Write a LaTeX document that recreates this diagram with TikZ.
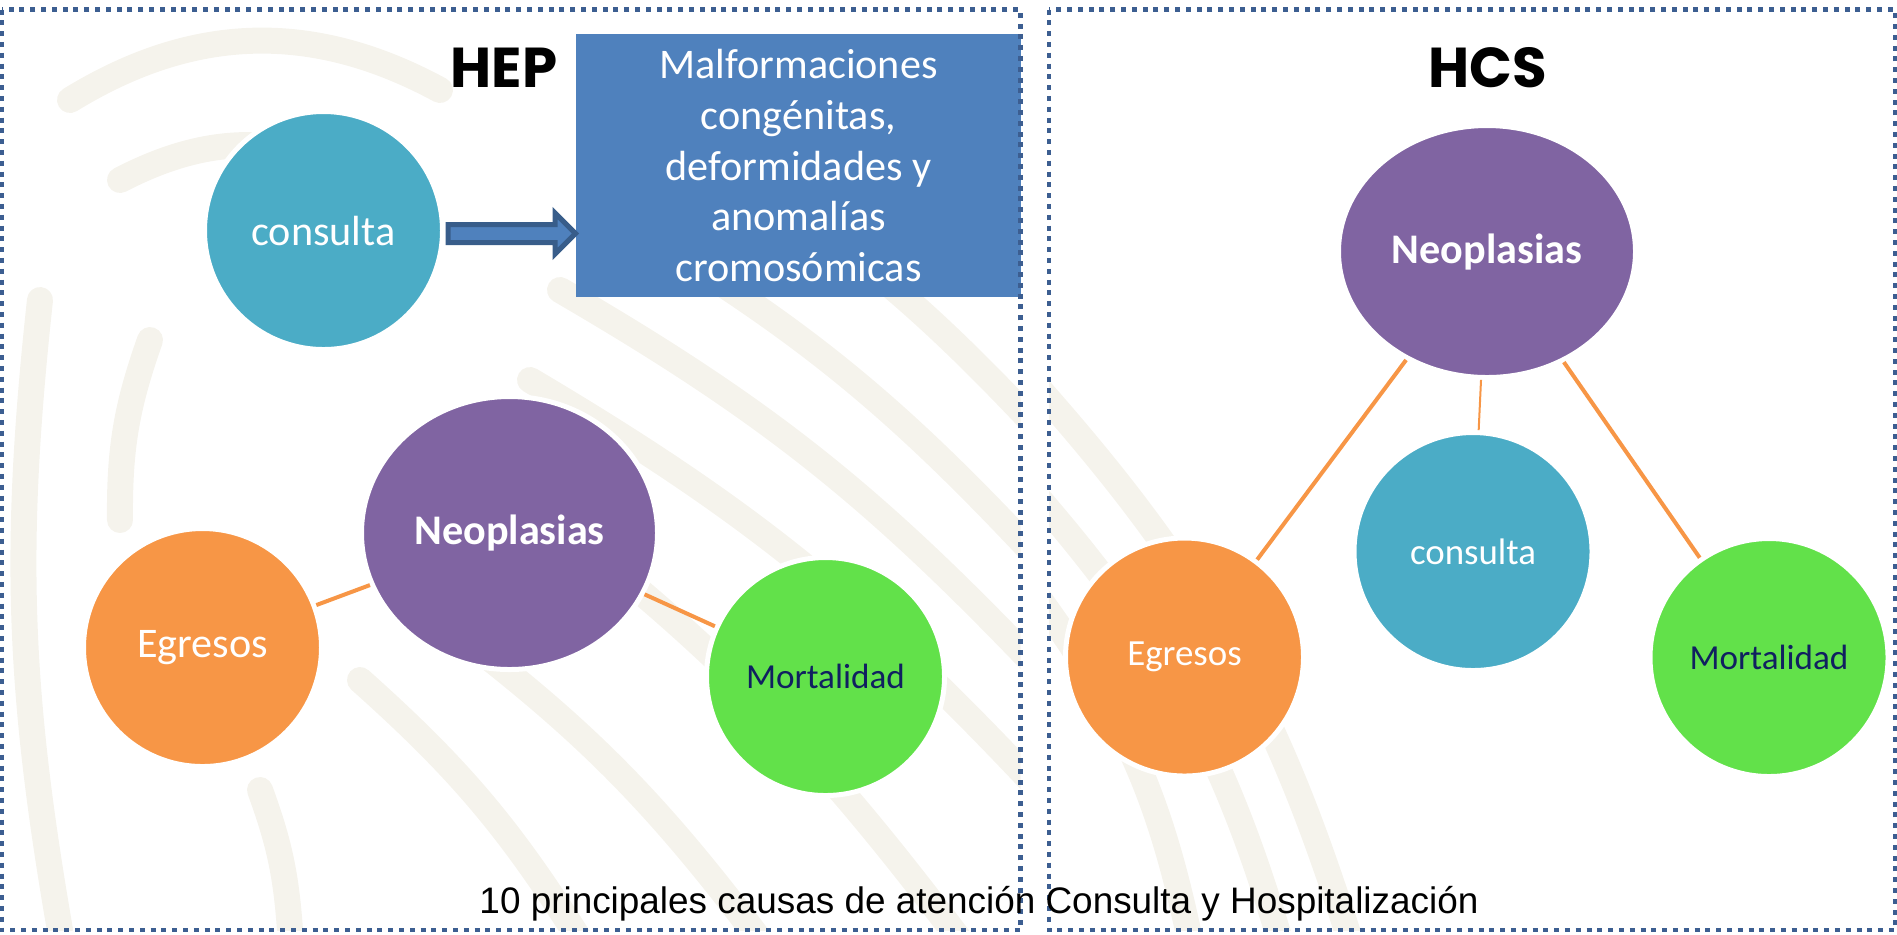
\documentclass[tikz,border=0pt]{standalone}
\usepackage{fontspec}
\setmainfont{Carlito}
\newfontfamily\titlefont{Poppins}
\newfontfamily\piefont{Liberation Sans}
\usetikzlibrary{positioning}
\usetikzlibrary{shapes.geometric}
\usepackage{xcolor}

\definecolor{consultaC}{RGB}{75,172,198}
\definecolor{neoC}{RGB}{128,100,162}
\definecolor{egresoC}{RGB}{247,150,70}
\definecolor{mortC}{RGB}{98,225,74}
\definecolor{mortText}{RGB}{16,32,96}
\definecolor{boxC}{RGB}{79,129,189}
\definecolor{flechaC}{RGB}{56,93,138}
\definecolor{marcoC}{RGB}{60,94,145}
\definecolor{fondoC}{RGB}{245,243,236}

\begin{document}
\begin{tikzpicture}[
		% Styles - circles, ovals, links
		circ/.style={circle, fill=#1, draw=white, line width=0.5mm, minimum size=2.38cm, inner sep=0pt, text=white, font=\fontsize{12}{14.4}\selectfont},
		small/.style={font=\fontsize{10.5}{12.6}\selectfont},
		oval/.style={ellipse, fill=neoC, draw=white, line width=0.5mm, inner sep=0pt, text=white, font=\fontsize{12}{14.4}\selectfont\bfseries},
		malfbox/.style={rectangle, fill=boxC, minimum width=4.45cm, minimum height=2.63cm, inner sep=0pt, text=white, align=center, font=\fontsize{12}{14.4}\selectfont},
		flecha/.style={fill=boxC, draw=flechaC, line width=0.5mm},
		link/.style={draw=egresoC, line width=0.4mm},
		titulo/.style={font=\titlefont\fontsize{16}{19}\selectfont\bfseries},
		panel/.style={draw=marcoC, line width=0.48mm, dash pattern=on 0.5mm off 0.58mm},
		fondo/.style={draw=fondoC, line width=0.26cm, line cap=round},
		]
		\useasboundingbox (0,0) rectangle (18.97,-9.34);

		% Background bands (left panel)
		\begin{scope}
			\clip (0.02,-0.095) rectangle (10.205,-9.30);
			\draw[fondo] (0.7,-1.0) to[bend left=30] (4.4,-0.9);
			\draw[fondo] (1.2,-1.8) to[bend left=25] (3.6,-1.7);
			\draw[fondo] (0.4,-3.0) to[bend right=8] (0.6,-9.3);
			\draw[fondo] (1.5,-3.4) to[bend right=10] (1.2,-5.2);
			\draw[fondo] (2.6,-7.9) to[bend left=8] (2.9,-9.3);
			\draw[fondo] (6.8,-1.4) to[bend left=8] (10.3,-4.2);
			\draw[fondo] (6.2,-2.2) to[bend left=8] (10.3,-5.5);
			\draw[fondo] (5.6,-2.9) to[bend left=8] (10.3,-6.6);
			\draw[fondo] (5.3,-3.8) to[bend left=8] (10.3,-7.8);
			\draw[fondo] (5.0,-4.8) to[bend left=8] (9.6,-9.4);
			\draw[fondo] (4.4,-6.2) to[bend left=8] (7.6,-9.4);
			\draw[fondo] (3.6,-6.8) to[bend left=8] (5.8,-9.4);
		\end{scope}
		% Background bands (right panel)
		\begin{scope}
			\clip (10.49,-0.095) rectangle (18.95,-9.30);
			\draw[fondo] (10.4,-3.9) to[bend left=12] (13.5,-9.4);
			\draw[fondo] (10.4,-5.0) to[bend left=12] (12.8,-9.4);
			\draw[fondo] (10.4,-6.0) to[bend left=12] (11.9,-9.4);
		\end{scope}

		% HEP panel
		\node[titulo] (hep) at (5.04,-0.68) {HEP};
		\node[circ=consultaC] (consulta1) at (3.235,-2.305) {consulta};
		\node[malfbox] (malf) at (7.985,-1.655) {Malformaciones\\congénitas,\\deformidades y\\anomalías\\cromosómicas};
		\node[oval, minimum width=2.96cm, minimum height=2.73cm] (neo1) at (5.095,-5.33) {Neoplasias};
		\node[circ=egresoC] (egresos1) at (2.025,-6.475) {Egresos};
		\node[circ=mortC, text=mortText, font=\fontsize{10}{12}\selectfont] (mort1) at (8.255,-6.765) {Mortalidad};

		% Block arrow consulta -> box
		\coordinate[right=0.03cm of consulta1, yshift=-0.3mm] (fa);
		\draw[flecha] (fa) ++(0,0.09) -- ++(1.07,0) -- ++(0,0.115) -- ++(0.205,-0.205)
			-- ++(-0.205,-0.205) -- ++(0,0.115) -- ++(-1.07,0) -- cycle;

		\draw[link] (egresos1) -- (neo1);
		\draw[link] (neo1) -- (mort1);

		% HCS panel
		\node[titulo] (hcs) at (14.88,-0.68) {HCS};
		\node[oval, minimum width=2.97cm, minimum height=2.52cm] (neo2) at (14.87,-2.515) {Neoplasias};
		\node[circ=consultaC, small] (consulta2) at (14.73,-5.515) {consulta};
		\node[circ=egresoC, small] (egresos2) at (11.845,-6.57) {Egresos};
		\node[circ=mortC, text=mortText, font=\fontsize{10}{12}\selectfont] (mort2) at (17.69,-6.575) {Mortalidad};

		\draw[link] (neo2) -- (egresos2);
		\draw[link, line width=0.2mm] (neo2) -- (consulta2);
		\draw[link] (neo2) -- (mort2);

		% Frames and caption
		\draw[panel] (0.02,-0.095) rectangle (10.205,-9.30);
		\draw[panel] (10.49,-0.095) rectangle (18.95,-9.30);
		\node[font=\piefont\fontsize{10.5}{12.6}\selectfont, anchor=base, inner sep=0pt] (pie) at (9.79,-9.13) {10 principales causas de atención Consulta y Hospitalización};

	\end{tikzpicture}
\end{document}
